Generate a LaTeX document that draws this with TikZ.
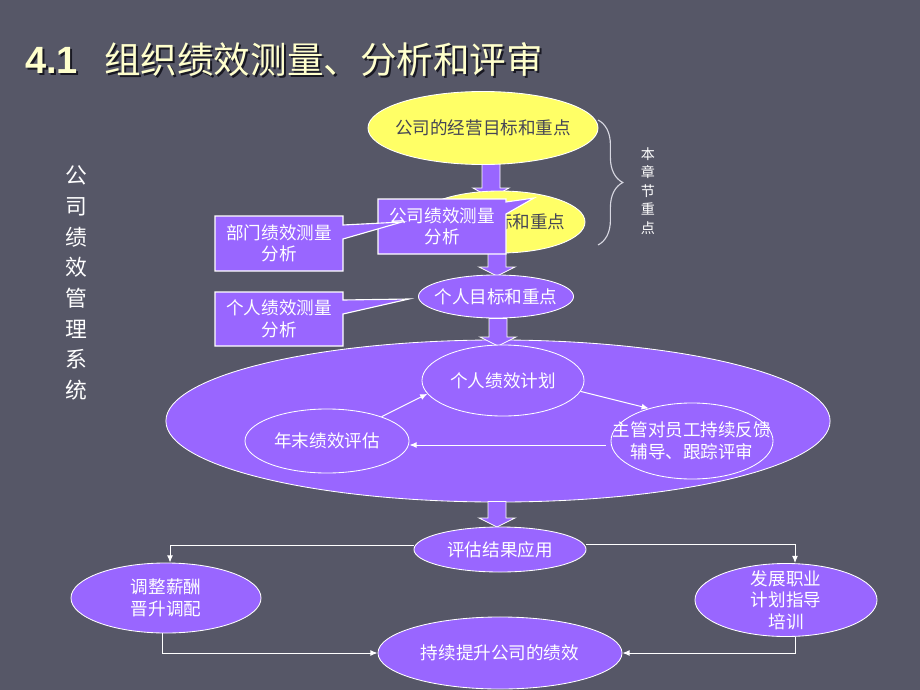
\documentclass[tikz,border=0pt]{standalone}
\usepackage{fontspec}
\setmainfont{Liberation Sans}
\newfontfamily\cjk{Noto Sans CJK SC}
\usetikzlibrary{shapes.geometric,arrows.meta,decorations.pathreplacing}
\definecolor{bg}{RGB}{86,87,103}
\definecolor{pur}{RGB}{153,102,255}
\definecolor{yel}{RGB}{255,255,102}
\definecolor{ttl}{RGB}{255,255,204}
\definecolor{ytext}{RGB}{70,70,85}
\definecolor{shad}{RGB}{25,25,35}
\definecolor{bracecol}{RGB}{215,215,225}
\newcommand\blockarr[4]{\filldraw[barrow] ({#1-9},#2) -- ({#1+9},#2) -- ({#1+9},#3) -- ({#1+18},#3) -- (#1,#4) -- ({#1-18},#3) -- ({#1-9},#3) -- cycle;}
\begin{document}
\begin{tikzpicture}[x=0.025cm,y=-0.025cm,
  pell/.style={ellipse, draw=white, fill=pur, line width=0.6pt, inner sep=0pt},
  yell/.style={ellipse, draw=white, fill=yel, line width=0.6pt, inner sep=0pt},
  wtxt/.style={text=white, font=\cjk\fontsize{12.5}{15.3}\selectfont, align=center, inner sep=0pt},
  ytxt/.style={wtxt, text=ytext},
  conn/.style={draw=white, line width=0.7pt, -{Latex[length=0.18cm,width=0.15cm]}},
  barrow/.style={fill=pur, draw=white, line width=0.6pt, line join=miter},
  calloutbox/.style={fill=pur, draw=white, line width=0.8pt, line join=miter},
  ttlfont/.style={font=\fontsize{26}{30}\selectfont, inner sep=0pt, anchor=base west}]
\fill[bg] (0,0) rectangle (920,690);
\useasboundingbox (0,0) rectangle (920,690);
% title
\node[ttlfont, font=\bfseries\fontsize{27}{30}\selectfont, text=shad] (tnums) at (27,76) {4.1};
\node[ttlfont, font=\bfseries\fontsize{27}{30}\selectfont, text=ttl] (tnum) at (25,74) {4.1};
\node[ttlfont, font=\cjk\fontsize{26}{30}\selectfont, text=shad] (tcns) at (106,76) {组织绩效测量、分析和评审};
\node[ttlfont, font=\cjk\fontsize{26}{30}\selectfont, text=ttl] (tcn) at (104,74) {组织绩效测量、分析和评审};
% vertical label
\node[text=white, font=\cjk\fontsize{15.5}{21.8}\selectfont, align=center, inner sep=0pt] (vt) at (76,283) {公\\司\\绩\\效\\管\\理\\系\\统};
% brace and its label
\draw[decorate, decoration={brace, amplitude=0.62cm, aspect=0.5}, draw=bracecol, line width=0.8pt] (598,120) -- (598,245);
\node[text=white, font=\cjk\fontsize{10}{13.2}\selectfont, align=center, inner sep=0pt] (bz) at (648,191) {本\\章\\节\\重\\点};
% top chain
\blockarr{491}{150}{188}{198}
\blockarr{497}{240}{267}{276}
\node[yell, minimum width=5.75cm, minimum height=1.825cm] (e1) at (483,128) {};
\node[ytxt] (e1t) at (e1) {公司的经营目标和重点};
\node[yell, minimum width=4.25cm, minimum height=1.55cm] (e2) at (500,222) {};
\node[ytxt] (e2t) at (504,222) {部门目标和重点};
% callouts
\filldraw[calloutbox] (378,199) -- (506,199) -- (506,202) -- (534,198) -- (506,214) -- (506,254) -- (378,254) -- cycle;
\node[wtxt] (c1) at (442,226.5) {公司绩效测量\\分析};
\filldraw[calloutbox] (215,216) -- (343,216) -- (343,225) -- (402,222) -- (343,239) -- (343,271) -- (215,271) -- cycle;
\node[wtxt] (c2) at (279,243.5) {部门绩效测量\\分析};
\filldraw[calloutbox] (215,292) -- (343,292) -- (343,300) -- (409,299) -- (343,314) -- (343,346) -- (215,346) -- cycle;
\node[wtxt] (c3) at (279,319) {个人绩效测量\\分析};
\node[pell, minimum width=3.875cm, minimum height=1.075cm] (p1) at (496,296.5) {};
\node[wtxt] (p1t) at (p1) {个人目标和重点};
% big cycle
\node[pell, minimum width=16.6cm, minimum height=4.05cm] (big) at (498,421) {};
\blockarr{498}{318.5}{337}{346}
\node[pell, minimum width=4.05cm, minimum height=1.775cm] (plan) at (503,380.5) {};
\node[wtxt] (plant) at (plan) {个人绩效计划};
\node[pell, minimum width=4.1cm, minimum height=1.6cm] (year) at (327,441) {};
\node[wtxt] (yeart) at (year) {年末绩效评估};
\node[pell, minimum width=4.05cm, minimum height=1.9cm] (sup) at (692,441) {};
\node[wtxt] (supt) at (sup) {主管对员工持续反馈\\辅导、跟踪评审};
\draw[conn] (year.24) -- (plan.190);
\draw[conn] (plan.-8) -- (sup.143);
\draw[conn] ([yshift=-0.1cm,xshift=-0.12cm]sup.west) -- ([yshift=-0.1cm]year.east);
% application
\blockarr{497}{501.5}{518}{527}
\node[pell, minimum width=4.3cm, minimum height=1.125cm] (apply) at (500,549.5) {};
\node[wtxt] (applyt) at (apply) {评估结果应用};
\node[pell, minimum width=4.75cm, minimum height=1.75cm] (adj) at (166,598) {};
\node[wtxt] (adjt) at (adj) {调整薪酬\\晋升调配};
\node[pell, minimum width=4.55cm, minimum height=1.825cm] (dev) at (786,600) {};
\node[wtxt] (devt) at (dev) {发展职业\\计划指导\\培训};
\node[pell, minimum width=6.1cm, minimum height=1.8cm] (cont) at (500,653) {};
\node[wtxt] (contt) at (cont) {持续提升公司的绩效};
\draw[conn] ([yshift=0.09cm]apply.west) -| ([xshift=0.1cm]adj.north);
\draw[conn] ([yshift=0.13cm]apply.east) -| ([xshift=0.225cm]dev.north);
\draw[conn] ([xshift=-0.1cm]adj.south) |- (cont.west);
\draw[conn] ([xshift=0.225cm]dev.south) |- (cont.east);
\end{tikzpicture}
\end{document}
